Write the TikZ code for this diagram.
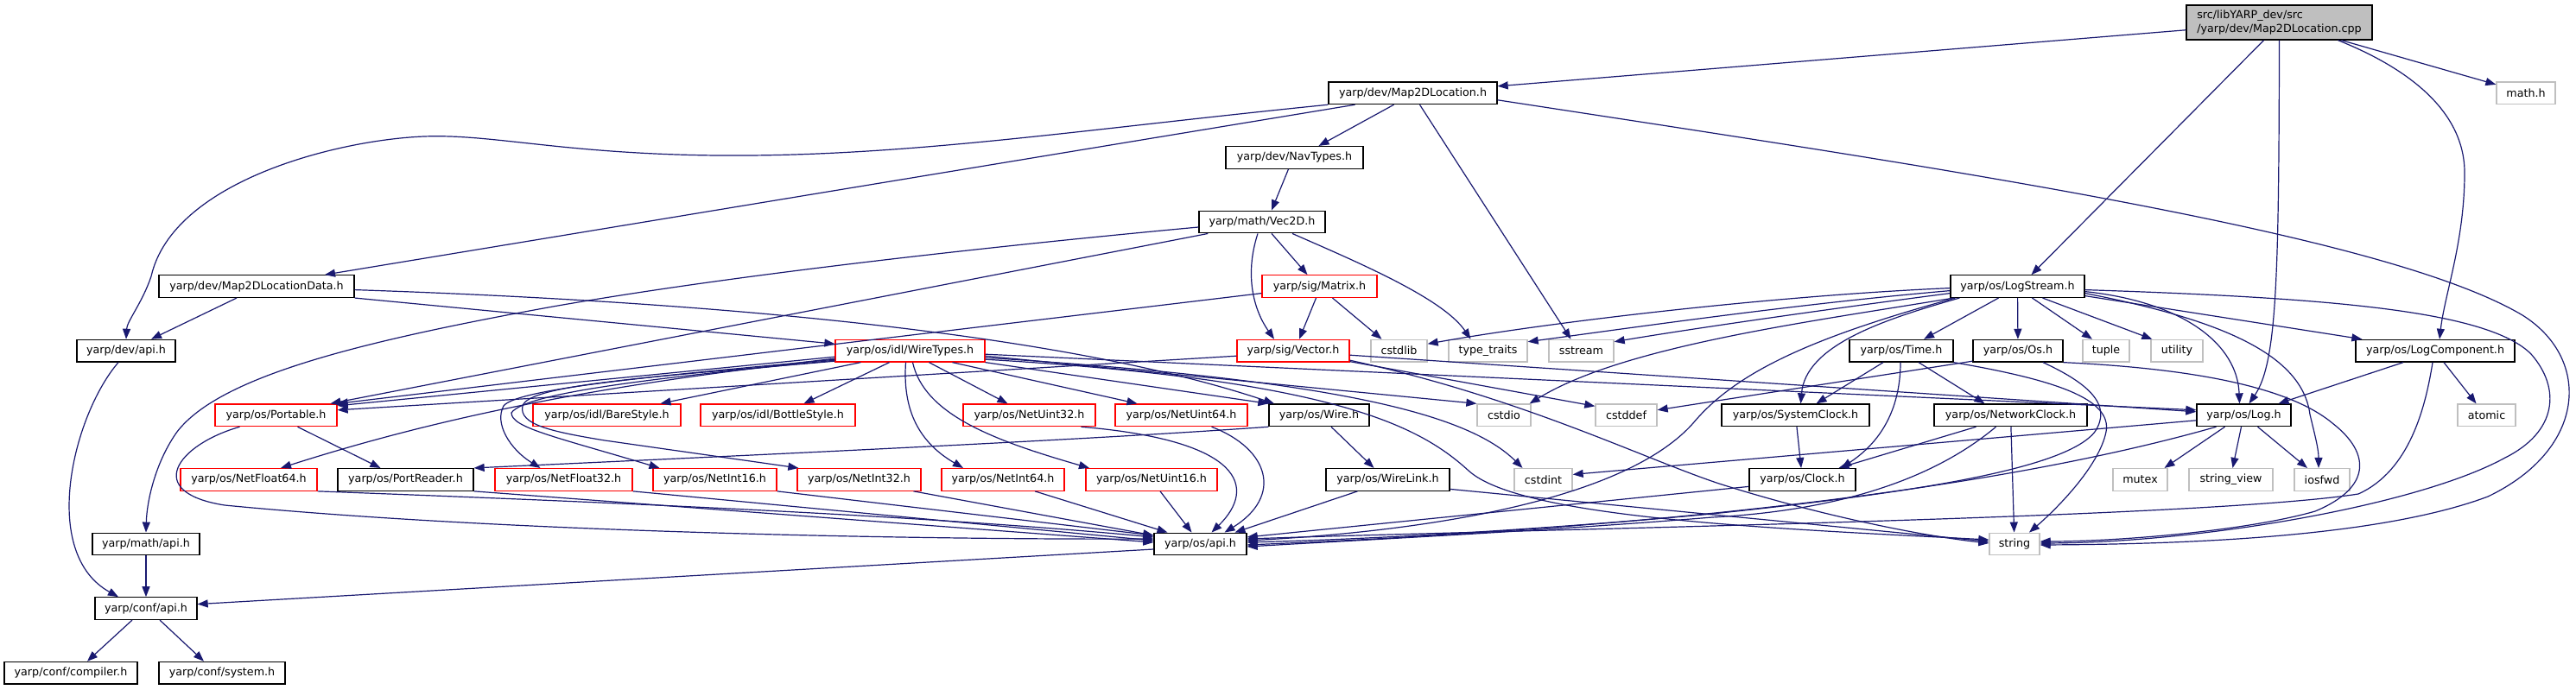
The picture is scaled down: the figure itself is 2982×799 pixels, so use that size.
\documentclass[tikz,border=0pt]{standalone}
\usepackage{fontspec}
\setmainfont{DejaVu Sans}
\usetikzlibrary{calc,arrows.meta}
\definecolor{edgeblue}{HTML}{191970}
\definecolor{extgray}{HTML}{BFBFBF}
\definecolor{boxred}{HTML}{FF0000}
\begin{document}
\begin{tikzpicture}[x=1pt,y=-1pt,
  bx/.style={draw, rectangle, line width=1.3pt, minimum height=25.6pt, inner sep=0pt, font=\fontsize{12.7pt}{15.7pt}\selectfont, text=black},
  nb/.style={bx, draw=black},
  rb/.style={bx, draw=boxred},
  gb/.style={bx, draw=extgray},
  wd/.style={minimum width=#1pt},
  ed/.style={draw=edgeblue, line width=1.2pt, -{Triangle[length=12pt,width=9pt]}}
]
\fill[white] (0,0) rectangle (2982,799);
\useasboundingbox (0,0) rectangle (2982,799);

% rank 0
\node[nb,wd=215,minimum height=40pt,fill=extgray,align=left] (cpp) at (2638.5,26) {src/libYARP\_dev/src\\/yarp/dev/Map2DLocation.cpp};
% rank 1
\node[nb,wd=195] (m2dl) at (1635.5,107.8) {yarp/dev/Map2DLocation.h};
\node[gb,wd=68] (mathh) at (2924,107.8) {math.h};
% rank 2
\node[nb,wd=159] (nav) at (1498.5,182.4) {yarp/dev/NavTypes.h};
% rank 3
\node[nb,wd=146] (vec) at (1461,257) {yarp/math/Vec2D.h};
% rank 4
\node[nb,wd=226] (m2dld) at (297,331.6) {yarp/dev/Map2DLocationData.h};
\node[rb,wd=133] (matrix) at (1527.5,331.6) {yarp/sig/Matrix.h};
\node[nb,wd=155] (ls) at (2335.5,331.6) {yarp/os/LogStream.h};
% rank 5
\node[nb,wd=114] (dapi) at (146,406.2) {yarp/dev/api.h};
\node[rb,wd=173] (wt) at (1053.5,406.2) {yarp/os/idl/WireTypes.h};
\node[rb,wd=130] (vector) at (1497,406.2) {yarp/sig/Vector.h};
\node[gb,wd=65] (cstdlib) at (1619.5,406.2) {cstdlib};
\node[gb,wd=91] (tt) at (1722.5,406.2) {type\_traits};
\node[gb,wd=75] (sstream) at (1830.5,406.2) {sstream};
\node[nb,wd=120] (time) at (2201,406.2) {yarp/os/Time.h};
\node[nb,wd=104] (os) at (2336,406.2) {yarp/os/Os.h};
\node[gb,wd=54] (tuple) at (2438,406.2) {tuple};
\node[gb,wd=60] (utility) at (2520,406.2) {utility};
\node[nb,wd=184] (logcomp) at (2819,406.2) {yarp/os/LogComponent.h};
% rank 6
\node[rb,wd=141] (portable) at (319.5,480.8) {yarp/os/Portable.h};
\node[rb,wd=171] (bare) at (702.5,480.8) {yarp/os/idl/BareStyle.h};
\node[rb,wd=179] (bottle) at (900.5,480.8) {yarp/os/idl/BottleStyle.h};
\node[rb,wd=153] (nu32) at (1191.5,480.8) {yarp/os/NetUint32.h};
\node[rb,wd=153] (nu64) at (1367.5,480.8) {yarp/os/NetUint64.h};
\node[nb,wd=116] (wire) at (1527,480.8) {yarp/os/Wire.h};
\node[gb,wd=62] (cstdio) at (1741,480.8) {cstdio};
\node[gb,wd=71] (cstddef) at (1882.5,480.8) {cstddef};
\node[nb,wd=171] (sysclock) at (2078.5,480.8) {yarp/os/SystemClock.h};
\node[nb,wd=177] (netclock) at (2327.5,480.8) {yarp/os/NetworkClock.h};
\node[nb,wd=109] (log) at (2597.5,480.8) {yarp/os/Log.h};
\node[gb,wd=67] (atomic) at (2878.5,480.8) {atomic};
% rank 7
\node[rb,wd=158] (nf64) at (288,555.4) {yarp/os/NetFloat64.h};
\node[nb,wd=157] (portreader) at (469.5,555.4) {yarp/os/PortReader.h};
\node[rb,wd=159] (nf32) at (652.5,555.4) {yarp/os/NetFloat32.h};
\node[rb,wd=143] (ni16) at (827.5,555.4) {yarp/os/NetInt16.h};
\node[rb,wd=143] (ni32) at (994.5,555.4) {yarp/os/NetInt32.h};
\node[rb,wd=142] (ni64) at (1161,555.4) {yarp/os/NetInt64.h};
\node[rb,wd=152] (nu16) at (1333,555.4) {yarp/os/NetUint16.h};
\node[nb,wd=143] (wirelink) at (1606.5,555.4) {yarp/os/WireLink.h};
\node[gb,wd=67] (cstdint) at (1786.5,555.4) {cstdint};
\node[nb,wd=123] (clock) at (2086.5,555.4) {yarp/os/Clock.h};
\node[gb,wd=63] (mutex) at (2477.5,555.4) {mutex};
\node[gb,wd=97] (sview) at (2582.5,555.4) {string\_view};
\node[gb,wd=64] (iosfwd) at (2688,555.4) {iosfwd};
% rank 8
\node[nb,wd=124] (mathapi) at (169,630) {yarp/math/api.h};
\node[nb,wd=107] (osapi) at (1389.5,630) {yarp/os/api.h};
\node[gb,wd=58] (string) at (2332,630) {string};
% rank 9
\node[nb,wd=118] (capi) at (169,704.6) {yarp/conf/api.h};
% rank 10
\node[nb,wd=154] (compiler) at (82,779.2) {yarp/conf/compiler.h};
\node[nb,wd=146] (system) at (257,779.2) {yarp/conf/system.h};

% ---- edges from cpp
\draw[ed] (cpp) -- (m2dl);
\draw[ed] ($(cpp.south)+(-18,0)$) -- ($(ls.north)+(16,0)$);
\draw[ed] (cpp.south) .. controls (2638,320) and (2636,420) .. ($(log.north)+(6,0)$);
\draw[ed] ($(cpp.south)+(68,0)$) .. controls (2790,80) and (2853,130) .. (2853,200) .. controls (2853,280) and (2830,340) .. ($(logcomp.north)+(5,0)$);
\draw[ed] (cpp) -- (mathh);

% ---- Map2DLocation.h
\draw[ed] ($(m2dl.south)+(-22,0)$) -- ($(nav.north)+(28,0)$);
\draw[ed] ($(m2dl.south)+(8,0)$) -- ($(sstream.north)+(-12,0)$);
\draw[ed] ($(m2dl.east)+(0,8)$) .. controls (2250,195) and (2760,270) .. (2920,365) .. controls (3000,415) and (2995,520) .. (2880,575) .. controls (2760,620) and (2550,630) .. ($(string.east)+(0,1)$);
\draw[ed] ($(m2dl.south)+(-67,0)$) -- ($(m2dld.north)+(79,0)$);
\draw[ed] (m2dl.south west) .. controls (1250,150) and (1050,182) .. (829,180) .. controls (650,178) and (570,155) .. (491,158) .. controls (390,162) and (200,210) .. (175,320) .. controls (165,350) and (147,372) .. (dapi.north);

% ---- NavTypes, Vec2D
\draw[ed] ($(nav.south)+(-7,0)$) -- ($(vec.north)+(11,0)$);
\draw[ed] ($(vec.south)+(11,0)$) -- ($(matrix.north)+(-14,0)$);
\draw[ed] ($(vec.south)+(-5,0)$) .. controls (1440,320) and (1452,360) .. ($(vector.north)+(-22,0)$);
\draw[ed] ($(vec.south)+(35,0)$) .. controls (1570,303) and (1670,345) .. ($(tt.north)+(-20,0)$);
\draw[ed] ($(vec.south west)+(11,0)$) -- ($(portable.north)+(63,0)$);
\draw[ed] ($(vec.west)+(0,6)$) .. controls (1150,285) and (850,318) .. (640,355) .. controls (420,395) and (255,435) .. (205,500) .. controls (180,535) and (170,580) .. (mathapi.north);

% ---- Map2DLocationData
\draw[ed] ($(m2dld.south)+(-23,0)$) -- ($(dapi.north)+(29,0)$);
\draw[ed] (m2dld.south east) -- ($(wt.west)+(0,-8)$);
\draw[ed] ($(m2dld.east)+(0,4)$) .. controls (900,352) and (1260,395) .. ($(wire.north)+(-52,0)$);

% ---- api chain
\draw[ed] ($(dapi.south)+(-9,0)$) .. controls (85,480) and (45,640) .. ($(capi.north)+(-32,0)$);
\draw[ed] (mathapi) -- (capi);
\draw[ed] ($(capi.south)+(-16,0)$) -- ($(compiler.north)+(19,0)$);
\draw[ed] ($(capi.south)+(16,0)$) -- ($(system.north)+(-21,0)$);
\draw[ed] ($(osapi.west)+(0,6)$) -- ($(capi.east)+(0,-5)$);

% ---- Portable, PortReader, Net*
\draw[ed] ($(portable.south)+(25,0)$) -- ($(portreader.north)+(-29,0)$);
\draw[ed] ($(portable.south)+(-42,0)$) .. controls (205,515) and (165,570) .. (260,585) .. controls (600,618) and (1100,625) .. ($(osapi.west)+(0,-6)$);
\draw[ed] (portreader.south east) -- ($(osapi.west)+(0,-2)$);
\draw[ed] (nf64.south east) .. controls (800,585) and (1100,600) .. ($(osapi.west)+(0,-8)$);
\draw[ed] (nf32.south east) -- ($(osapi.west)+(0,-4)$);
\draw[ed] (ni16.south east) -- ($(osapi.west)+(0,-10)$);
\draw[ed] ($(ni32.south)+(63,0)$) -- ($(osapi.west)+(0,-10)$);
\draw[ed] ($(ni64.south)+(37,0)$) -- ($(osapi.north)+(-38,0)$);
\draw[ed] ($(nu16.south)+(10,0)$) -- ($(osapi.north)+(-10,0)$);
\draw[ed] ($(nu32.south)+(60,0)$) .. controls (1440,510) and (1455,565) .. ($(osapi.north)+(13,0)$);
\draw[ed] ($(nu64.south)+(35,0)$) .. controls (1470,520) and (1485,575) .. ($(osapi.north)+(28,0)$);
\draw[ed] ($(wirelink.south)+(-35,0)$) -- ($(osapi.north)+(40,0)$);
\draw[ed] ($(wirelink.east)+(0,11)$) -- ($(string.west)+(0,-3)$);

% ---- Wire
\draw[ed] ($(wire.south)+(14,0)$) -- ($(wirelink.north)+(-16,0)$);
\draw[ed] (wire.south west) .. controls (1250,510) and (850,528) .. (portreader.north east);

% ---- WireTypes
\draw[ed] ($(wt.west)+(0,7)$) -- ($(portable.east)+(0,-11)$);
\draw[ed] ($(wt.south west)+(30,0)$) -- ($(bare.north)+(62,0)$);
\draw[ed] ($(wt.south)+(-24,0)$) -- ($(bottle.north)+(30,0)$);
\draw[ed] ($(wt.south)+(22,0)$) -- ($(nu32.north)+(-25,0)$);
\draw[ed] ($(wt.south)+(49,0)$) -- ($(nu64.north)+(-51,0)$);
\draw[ed] (wt.south east) -- (wire.north west);
\draw[ed] ($(wt.east)+(0,4)$) -- ($(log.west)+(0,-6)$);
\draw[ed] ($(wt.east)+(0,6)$) -- (cstdio.north west);
\draw[ed] ($(wt.east)+(0,8)$) .. controls (1550,440) and (1700,480) .. ($(cstdint.north)+(-24,0)$);
\draw[ed] ($(wt.east)+(0,10)$) .. controls (1550,440) and (1645,495) .. (1700,545) .. controls (1760,600) and (2050,612) .. ($(string.west)+(0,-5)$);
\draw[ed] ($(wt.west)+(0,9)$) .. controls (750,440) and (550,470) .. ($(nf64.north)+(37,0)$);
\draw[ed] ($(wt.west)+(0,10)$) .. controls (800,432) and (600,448) .. (583,470) .. controls (572,490) and (590,520) .. ($(nf32.north)+(-27,0)$);
\draw[ed] ($(wt.west)+(0,11)$) .. controls (800,434) and (610,452) .. (592,478) .. controls (592,495) and (640,505) .. ($(ni16.north)+(-64,0)$);
\draw[ed] ($(wt.west)+(0,12)$) .. controls (760,436) and (612,445) .. (605,470) .. controls (600,492) and (640,500) .. (700,510) -- ($(ni32.north west)+(2,0)$);
\draw[ed] ($(wt.south)+(-5,0)$) .. controls (1045,470) and (1060,510) .. ($(ni64.north)+(-46,0)$);
\draw[ed] ($(wt.south)+(3,0)$) .. controls (1070,480) and (1150,510) .. ($(nu16.north)+(-72,0)$);

% ---- Vector
\draw[ed] ($(vector.west)+(0,6)$) -- ($(portable.east)+(0,-6)$);
\draw[ed] ($(vector.east)+(0,5)$) -- ($(log.west)+(0,-4)$);
\draw[ed] ($(vector.south east)+(0,-1)$) -- ($(cstddef.north west)+(0,3)$);
\draw[ed] ($(vector.east)+(0,11)$) .. controls (1760,460) and (1900,530) .. (1990,560) .. controls (2100,595) and (2220,620) .. ($(string.west)+(0,-1)$);

% ---- Matrix
\draw[ed] ($(matrix.south)+(-4,0)$) -- ($(vector.north)+(7,0)$);
\draw[ed] ($(matrix.south)+(15,0)$) -- ($(cstdlib.north)+(-20,0)$);
\draw[ed] ($(matrix.west)+(0,8)$) -- (portable.north east);

% ---- LogStream
\draw[ed] ($(ls.west)+(0,2)$) .. controls (2060,342) and (1800,372) .. ($(cstdlib.east)+(0,-8)$);
\draw[ed] ($(ls.west)+(0,5)$) .. controls (2080,352) and (1900,378) .. ($(tt.north east)+(0,3)$);
\draw[ed] ($(ls.west)+(0,8)$) .. controls (2100,360) and (1950,382) .. ($(sstream.north east)+(0,3)$);
\draw[ed] ($(ls.south west)+(4,0)$) .. controls (2100,372) and (1880,400) .. ($(cstdio.north east)+(-2,0)$);
\draw[ed] ($(ls.south west)+(6,0)$) .. controls (2100,390) and (2010,430) .. (1960,490) .. controls (1880,580) and (1650,615) .. ($(osapi.east)+(0,-4)$);
\draw[ed] ($(ls.south west)+(11,0)$) .. controls (2180,370) and (2090,400) .. ($(sysclock.north)+(6,0)$);
\draw[ed] ($(ls.south)+(-22,0)$) -- ($(time.north)+(26,0)$);
\draw[ed] (ls) -- (os);
\draw[ed] ($(ls.south)+(17,0)$) -- ($(tuple.north)+(-16,0)$);
\draw[ed] ($(ls.south)+(29,0)$) -- ($(utility.north west)+(2,0)$);
\draw[ed] ($(ls.east)+(0,6)$) .. controls (2530,350) and (2590,400) .. ($(log.north)+(-5,0)$);
\draw[ed] ($(ls.east)+(0,8)$) .. controls (2570,370) and (2665,410) .. (2674,480) .. controls (2680,505) and (2684,520) .. ($(iosfwd.north)+(-4,0)$);
\draw[ed] ($(ls.east)+(0,11)$) -- ($(logcomp.north west)+(8,0)$);
\draw[ed] ($(ls.east)+(0,4)$) .. controls (2700,345) and (2880,360) .. (2930,410) .. controls (2965,450) and (2960,500) .. (2900,530) .. controls (2800,585) and (2550,628) .. ($(string.east)+(0,-1)$);

% ---- Time
\draw[ed] ($(time.south)+(-21,0)$) -- ($(sysclock.north)+(24,0)$);
\draw[ed] ($(time.south)+(20,0)$) -- ($(netclock.north)+(-30,0)$);
\draw[ed] ($(time.south)+(-1,0)$) .. controls (2200,470) and (2180,510) .. ($(clock.north)+(45,0)$);
\draw[ed] (time.south east) .. controls (2380,440) and (2445,462) .. (2438,500) .. controls (2430,540) and (2380,590) .. ($(string.north)+(17,0)$);

% ---- Os
\draw[ed] ($(os.west)+(0,12)$) -- ($(cstddef.east)+(0,-6)$);
\draw[ed] ($(os.south)+(29,0)$) .. controls (2420,445) and (2445,470) .. (2425,500) .. controls (2390,545) and (2200,572) .. (1982,595) .. controls (1800,612) and (1600,624) .. ($(osapi.east)+(0,-2)$);
\draw[ed] (os.south east) .. controls (2500,425) and (2640,440) .. (2700,490) .. controls (2745,525) and (2745,565) .. (2680,592) .. controls (2600,615) and (2450,627) .. ($(string.east)+(0,-3)$);

% ---- LogComponent
\draw[ed] ($(logcomp.south)+(-37,0)$) -- ($(log.north)+(40,0)$);
\draw[ed] ($(logcomp.south)+(10,0)$) -- ($(atomic.north)+(-12,0)$);
\draw[ed] ($(logcomp.south)+(-3,0)$) .. controls (2808,470) and (2790,545) .. (2730,572) .. controls (2550,600) and (1800,612) .. ($(osapi.east)+(0,-6)$);

% ---- Log
\draw[ed] ($(log.south)+(-22,0)$) -- ($(mutex.north)+(28,0)$);
\draw[ed] ($(log.south)+(-3,0)$) -- ($(sview.north)+(2,0)$);
\draw[ed] ($(log.south)+(16,0)$) -- ($(iosfwd.north)+(-17,0)$);
\draw[ed] ($(log.west)+(0,6)$) -- ($(cstdint.east)+(0,-6)$);
\draw[ed] ($(log.south)+(-32,0)$) .. controls (2300,570) and (1900,612) .. ($(osapi.east)+(0,1)$);

% ---- clocks
\draw[ed] ($(netclock.south)+(-40,0)$) -- ($(clock.north)+(42,0)$);
\draw[ed] ($(netclock.south)+(-17,0)$) .. controls (2250,545) and (2150,590) .. (1982,599) .. controls (1800,614) and (1600,624) .. ($(osapi.east)+(0,3)$);
\draw[ed] (netclock) -- (string);
\draw[ed] (sysclock) -- (clock);
\draw[ed] ($(clock.west)+(0,8)$) -- ($(osapi.east)+(0,-8)$);

\end{tikzpicture}
\end{document}
